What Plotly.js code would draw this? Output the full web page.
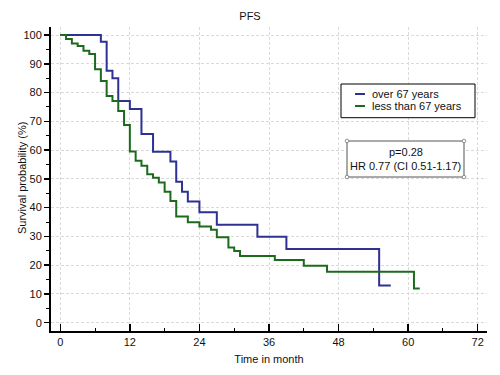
<!DOCTYPE html>
<html>
<head>
<meta charset="utf-8">
<script src="https://cdn.plot.ly/plotly-3.0.1.min.js"></script>
<style>html,body{margin:0;padding:0;background:#fff;}#chart{width:500px;height:375px;}</style>
</head>
<body>
<div id="chart"></div>
<script>
// Data
const overTime = [0, 7, 8, 9, 10, 12, 14, 16, 19, 20, 21, 22, 24, 27, 34, 39, 55, 57];
const overSurv = [100, 97.7, 87.6, 85.0, 77.1, 74.3, 65.6, 59.4, 56.0, 49.0, 45.5, 42.1, 38.4, 34.0, 29.9, 25.6, 12.9, 12.9];
const lessTime = [0, 1, 2, 3, 4, 5, 6, 7, 8, 9, 10, 11, 12, 13, 14, 15, 16, 17, 18, 19, 20, 22, 24, 26, 27, 29, 30, 31, 37, 42, 46, 61, 62];
const lessSurv = [100, 98.6, 97.1, 96.2, 94.5, 93.4, 88.1, 84.0, 78.8, 77.1, 73.6, 68.7, 59.5, 56.3, 54.6, 51.6, 50.4, 48.7, 45.5, 42.3, 36.9, 34.9, 33.4, 32.3, 29.7, 26.1, 24.9, 23.2, 21.8, 19.8, 17.7, 11.9, 11.9];
const seriesNames = ["over 67 years", "less than 67 years"];
const statsText = ["p=0.28", "HR 0.77 (CI 0.51-1.17)"];
const xTicks = [0, 12, 24, 36, 48, 60, 72];
const yTicks = [0, 10, 20, 30, 40, 50, 60, 70, 80, 90, 100];
const yTitle = "Survival probability (%)";

const blue = "#2E3192", green = "#1C6B1C";
const FONT = "Liberation Sans, Arial, sans-serif";

// plot area in pixels
const L = 51, R = 487, T = 27, B = 331;
const px = v => (v - L) / (R - L);
const py = v => 1 - (v - T) / (B - T);

const traces = [
  {x: overTime, y: overSurv, name: seriesNames[0], type: "scatter", mode: "lines",
   line: {shape: "hv", color: blue, width: 2}, showlegend: false},
  {x: lessTime, y: lessSurv, name: seriesNames[1], type: "scatter", mode: "lines",
   line: {shape: "hv", color: green, width: 2}, showlegend: false}
];

const shapes = [
  // legend box
  {type: "rect", xref: "paper", yref: "paper", x0: px(341), x1: px(475), y0: py(84), y1: py(117.7),
   line: {color: "#000", width: 1}, fillcolor: "#fff", layer: "above"},
  {type: "line", xref: "paper", yref: "paper", x0: px(355), x1: px(365), y0: py(94), y1: py(94),
   line: {color: blue, width: 2}, layer: "above"},
  {type: "line", xref: "paper", yref: "paper", x0: px(355), x1: px(365), y0: py(106), y1: py(106),
   line: {color: green, width: 2}, layer: "above"},
  // stats box
  {type: "rect", xref: "paper", yref: "paper", x0: px(347), x1: px(464), y0: py(141), y1: py(177),
   line: {color: "#555", width: 1}, fillcolor: "#fff", layer: "above"}
];
[[347,141],[464,141],[347,177],[464,177]].forEach(([cx, cy]) => {
  shapes.push({type: "circle", xref: "paper", yref: "paper", x0: px(cx-1.8), x1: px(cx+1.8), y0: py(cy-1.8), y1: py(cy+1.8),
    line: {color: "#777", width: 0.8}, fillcolor: "#fff", layer: "above"});
});

const annotations = [
  {xref: "paper", yref: "paper", x: px(370), y: py(94), xanchor: "left", yanchor: "middle", showarrow: false,
   text: seriesNames[0], font: {family: FONT, size: 11, color: "#111"}},
  {xref: "paper", yref: "paper", x: px(370), y: py(106), xanchor: "left", yanchor: "middle", showarrow: false,
   text: seriesNames[1], font: {family: FONT, size: 11, color: "#111"}},
  {xref: "paper", yref: "paper", x: px(405.5), y: py(151.5), xanchor: "center", yanchor: "middle", showarrow: false,
   text: statsText[0], font: {family: FONT, size: 11, color: "#111"}},
  {xref: "paper", yref: "paper", x: px(405.5), y: py(165.5), xanchor: "center", yanchor: "middle", showarrow: false,
   text: statsText[1], font: {family: FONT, size: 11, color: "#111"}},
  // y-axis title
  {xref: "paper", yref: "paper", x: px(22), y: py(178), xanchor: "center", yanchor: "middle", showarrow: false,
   textangle: -90, text: yTitle, font: {family: FONT, size: 11, color: "#111"}}
];

const layout = {
  width: 500, height: 375,
  margin: {l: L, r: 500 - R, t: T, b: 375 - B, pad: 0},
  paper_bgcolor: "#fff", plot_bgcolor: "#fff",
  font: {family: FONT, size: 11, color: "#111"},
  title: {text: "PFS", font: {family: FONT, size: 11, color: "#111"}, x: 0.5, xanchor: "center", y: 1 - 16/375, yanchor: "middle"},
  showlegend: false,
  xaxis: {
    range: [-1.6, 73.6], tickvals: xTicks, ticktext: xTicks.map(String),
    showline: true, linecolor: "#000", linewidth: 2, mirror: false,
    ticks: "inside", ticklen: 7, tickwidth: 1.5, tickcolor: "#000",
    minor: {dtick: 6, tick0: 0, ticks: "inside", ticklen: 3, tickwidth: 1, tickcolor: "#000", showgrid: false},
    showgrid: true, gridcolor: "#dadada", gridwidth: 1, griddash: "3px,2px", zeroline: false,
    tickfont: {family: FONT, size: 11, color: "#111"},
    title: {text: "Time in month", font: {family: FONT, size: 11, color: "#111"}, standoff: 8}
  },
  yaxis: {
    range: [-2.9, 102.8], tickvals: yTicks, ticktext: yTicks.map(String),
    showline: true, linecolor: "#000", linewidth: 2, mirror: false,
    ticks: "outside", ticklen: 5, tickwidth: 1.5, tickcolor: "#000",
    minor: {dtick: 5, tick0: 0, ticks: "outside", ticklen: 3, tickwidth: 1, tickcolor: "#000", showgrid: false},
    showgrid: true, gridcolor: "#dadada", gridwidth: 1, griddash: "3px,2px", zeroline: false,
    tickfont: {family: FONT, size: 11, color: "#111"}
  },
  shapes: shapes,
  annotations: annotations
};

Plotly.newPlot("chart", traces, layout, {displayModeBar: false, staticPlot: true});
</script>
</body>
</html>
